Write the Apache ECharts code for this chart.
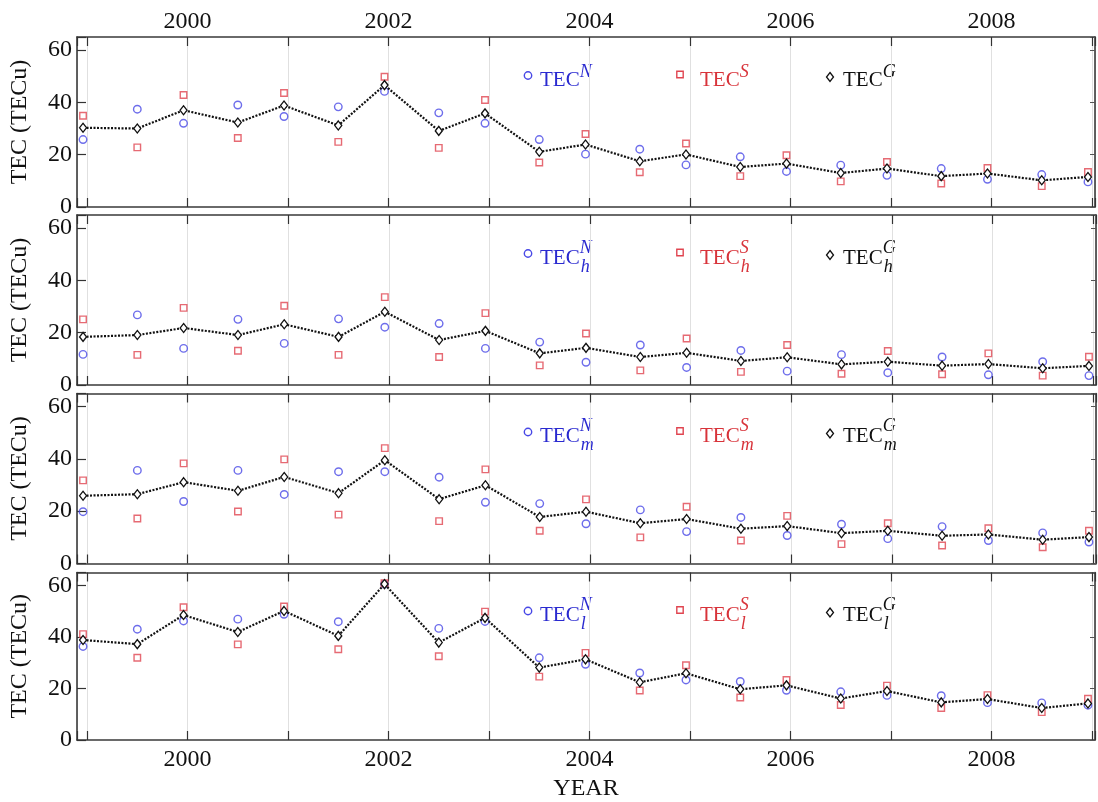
<!DOCTYPE html>
<html>
<head>
<meta charset="utf-8">
<script src="https://cdn.jsdelivr.net/npm/echarts@6/dist/echarts.min.js"></script>
<style>
  html, body { margin: 0; padding: 0; background: #fff; }
  #chart { width: 1098px; height: 802px; }
</style>
</head>
<body>
<div id="chart"></div>
<script>
// sample epochs (decimal year)
var epochs = [1998.96, 1999.5, 1999.96, 2000.5, 2000.96, 2001.5, 2001.96, 2002.5, 2002.96, 2003.5,
  2003.96, 2004.5, 2004.96, 2005.5, 2005.96, 2006.5, 2006.96, 2007.5, 2007.96, 2008.5, 2008.96];

// all hours
var tecG = [30.3, 30.0, 37.0, 32.3, 38.8, 31.2, 46.6, 29.1, 35.8, 21.1, 23.9, 17.5, 20.1, 15.3, 16.6, 13.0, 14.7, 11.8, 12.8, 10.2, 11.5];
var tecN = [25.8, 37.4, 32.0, 39.0, 34.6, 38.3, 44.2, 36.0, 32.0, 25.8, 20.2, 22.1, 16.1, 19.2, 13.6, 16.0, 12.1, 14.7, 10.6, 12.4, 9.6];
var tecS = [34.9, 22.8, 42.8, 26.4, 43.6, 24.9, 49.8, 22.6, 40.9, 17.0, 27.9, 13.3, 24.3, 11.8, 19.8, 9.8, 17.2, 9.0, 14.9, 8.0, 13.4];
// h
var tecGh = [18.4, 19.1, 21.8, 19.1, 23.2, 18.4, 28.0, 17.2, 20.7, 12.1, 14.2, 10.7, 12.3, 9.2, 10.6, 7.9, 8.9, 7.4, 8.0, 6.4, 7.3];
var tecNh = [11.7, 26.8, 14.0, 25.1, 15.9, 25.3, 22.1, 23.5, 14.0, 16.4, 8.7, 15.3, 6.7, 13.2, 5.3, 11.6, 4.7, 10.7, 3.9, 8.9, 3.6];
var tecSh = [25.1, 11.5, 29.5, 13.1, 30.3, 11.5, 33.6, 10.7, 27.5, 7.5, 19.7, 5.6, 17.8, 5.0, 15.3, 4.3, 13.0, 4.1, 12.1, 3.6, 10.8];
// m
var tecGm = [25.9, 26.5, 31.1, 27.8, 33.1, 26.9, 39.5, 24.6, 29.9, 17.8, 19.8, 15.4, 17.0, 13.3, 14.3, 11.6, 12.5, 10.6, 11.1, 9.1, 10.1];
var tecNm = [19.8, 35.6, 23.7, 35.6, 26.4, 35.1, 35.1, 33.0, 23.4, 22.9, 15.2, 20.5, 12.2, 17.6, 10.7, 15.0, 9.5, 14.1, 8.8, 11.7, 8.2];
var tecSm = [31.8, 17.2, 38.3, 19.9, 39.8, 18.7, 44.1, 16.2, 36.0, 12.5, 24.5, 10.0, 21.7, 8.8, 18.2, 7.4, 15.4, 6.9, 13.5, 6.2, 12.5];
// l
var tecGl = [38.8, 37.2, 48.5, 41.9, 50.1, 40.4, 60.5, 37.8, 47.4, 28.1, 31.3, 22.4, 25.9, 19.7, 21.2, 16.1, 19.0, 14.6, 15.9, 12.4, 14.2];
var tecNl = [36.3, 43.0, 46.2, 46.9, 48.8, 45.9, 60.5, 43.3, 46.0, 31.9, 29.4, 26.0, 23.3, 22.7, 19.3, 18.7, 17.3, 17.2, 14.5, 14.4, 13.5];
var tecSl = [41.1, 31.9, 51.5, 37.1, 51.8, 35.2, 60.8, 32.5, 49.8, 24.6, 33.8, 19.2, 29.0, 16.5, 23.3, 13.6, 21.1, 12.4, 17.4, 10.8, 16.0];

var subscripts = ['', 'h', 'm', 'l'];
var panelN = [tecN, tecNh, tecNm, tecNl];
var panelS = [tecS, tecSh, tecSm, tecSl];
var panelG = [tecG, tecGh, tecGm, tecGl];

var FONT = '"Liberation Serif", "Times New Roman", serif';
var tops = [37, 215, 393.5, 572.5];
var blue = '#2a2ad0', red = '#d8333a', black = '#111';

function pairs(vals) {
  return epochs.map(function (x, i) { return [x, vals[i]]; });
}

function yearLabel(v) {
  var r = Math.round(v);
  if (Math.abs(v - r) > 1e-6 || r % 2 !== 0) return '';
  return String(r);
}

var ctx = document.createElement('canvas').getContext('2d');
function textWidth(str, size) {
  ctx.font = size + 'px ' + FONT;
  return ctx.measureText(str).width;
}

var grids = [], xAxes = [], yAxes = [], series = [], graphics = [];
var axisColor = '#3a3a3a';

tops.forEach(function (t, p) {
  grids.push({ left: 76, width: 1020, top: t, height: 170 });

  var xBase = {
    gridIndex: p, type: 'value', min: 1998.9, max: 2009.03,
    minInterval: 1, maxInterval: 1,
    axisLine: { show: true, onZero: false, lineStyle: { color: axisColor, width: 1.6 } },
    axisTick: { show: true, inside: true, length: 9, lineStyle: { color: '#333', width: 1.2 } }
  };
  xAxes.push(Object.assign({}, xBase, {
    position: 'bottom',
    axisLabel: { show: p === 3, formatter: yearLabel, fontSize: 24, fontFamily: FONT, color: black, margin: 8 },
    splitLine: { show: true, lineStyle: { color: '#e0e0e0', width: 1 } },
    name: p === 3 ? 'YEAR' : '', nameLocation: 'middle', nameGap: 37,
    nameTextStyle: { fontSize: 24, fontFamily: FONT, color: black }
  }));
  xAxes.push(Object.assign({}, xBase, {
    position: 'top',
    axisLabel: { show: p === 0, formatter: yearLabel, fontSize: 24, fontFamily: FONT, color: black, margin: 3 },
    splitLine: { show: false }
  }));

  var yBase = {
    gridIndex: p, type: 'value', min: 0, max: 65, interval: 20,
    axisLine: { show: true, onZero: false, lineStyle: { color: axisColor, width: 1.6 } },
    axisTick: { show: true, inside: true, length: 9, lineStyle: { color: '#333', width: 1.2 } },
    splitLine: { show: false }
  };
  yAxes.push(Object.assign({}, yBase, {
    position: 'left',
    axisLabel: {
      formatter: function (v) { return v <= 60 ? String(v) : ''; },
      fontSize: 24, fontFamily: FONT, color: black, margin: 5
    },
    name: 'TEC (TECu)', nameLocation: 'middle', nameGap: 45,
    nameTextStyle: { fontSize: 24, fontFamily: FONT, color: black }
  }));
  yAxes.push(Object.assign({}, yBase, {
    position: 'right', axisLabel: { show: false },
    axisTick: { show: true, inside: true, length: 5, lineStyle: { color: '#555', width: 1 } }
  }));

  series.push({
    type: 'line', xAxisIndex: 2 * p, yAxisIndex: 2 * p, data: pairs(panelG[p]),
    symbol: 'diamond', symbolSize: [7, 9], showAllSymbol: true,
    lineStyle: { color: '#111', width: 2.2, type: [2, 1.5] },
    itemStyle: { color: '#fff', borderColor: '#111', borderWidth: 1.3 },
    z: 3
  });
  series.push({
    type: 'scatter', xAxisIndex: 2 * p, yAxisIndex: 2 * p, data: pairs(panelN[p]),
    symbol: 'circle', symbolSize: 7.5,
    itemStyle: { color: 'rgba(0,0,0,0)', borderColor: '#4848e6', borderWidth: 1.4 },
    z: 2
  });
  series.push({
    type: 'scatter', xAxisIndex: 2 * p, yAxisIndex: 2 * p, data: pairs(panelS[p]),
    symbol: 'rect', symbolSize: 6.5,
    itemStyle: { color: 'rgba(0,0,0,0)', borderColor: '#e04550', borderWidth: 1.4 },
    z: 2
  });

  // legend row: symbol + TEC with super/subscripts
  var items = [
    { sx: 528, sy: t + 38.5, tx: 540, sup: 'N', color: blue, shape: 'circle' },
    { sx: 680, sy: t + 37.5, tx: 700, sup: 'S', color: red, shape: 'rect' },
    { sx: 830, sy: t + 40, tx: 843, sup: 'G', color: black, shape: 'diamond' }
  ];
  items.forEach(function (it) {
    if (it.shape === 'circle') {
      graphics.push({ type: 'circle', shape: { cx: it.sx, cy: it.sy, r: 3.7 },
        style: { fill: 'none', stroke: '#4848e6', lineWidth: 1.4 } });
    } else if (it.shape === 'rect') {
      graphics.push({ type: 'rect', shape: { x: it.sx - 3.2, y: it.sy - 3.2, width: 6.4, height: 6.4 },
        style: { fill: 'none', stroke: '#e04550', lineWidth: 1.4 } });
    } else {
      graphics.push({ type: 'polygon',
        shape: { points: [[it.sx, it.sy - 4.5], [it.sx + 3.5, it.sy], [it.sx, it.sy + 4.5], [it.sx - 3.5, it.sy]] },
        style: { fill: 'none', stroke: '#111', lineWidth: 1.3 } });
    }
    graphics.push({ type: 'text', x: it.tx, y: t + 43,
      style: { text: 'TEC', fill: it.color, font: '21px ' + FONT, textVerticalAlign: 'middle' } });
    var w = textWidth('TEC', 21);
    graphics.push({ type: 'text', x: it.tx + w, y: t + (subscripts[p] ? 33 : 35),
      style: { text: it.sup, fill: it.color, font: 'italic 18px ' + FONT, textVerticalAlign: 'middle' } });
    if (subscripts[p]) {
      graphics.push({ type: 'text', x: it.tx + w + 1, y: t + 52,
        style: { text: subscripts[p], fill: it.color, font: 'italic 18px ' + FONT, textVerticalAlign: 'middle' } });
    }
  });
});

var chart = echarts.init(document.getElementById('chart'), null, { renderer: 'canvas' });
chart.setOption({
  backgroundColor: '#fff',
  animation: false,
  grid: grids,
  xAxis: xAxes,
  yAxis: yAxes,
  series: series,
  graphic: graphics
});
</script>
</body>
</html>
